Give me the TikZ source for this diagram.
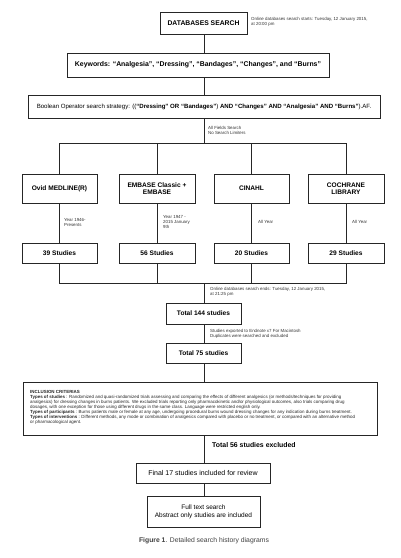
\documentclass[tikz,border=0pt]{standalone}
\usepackage{fontspec}
\setmainfont{Liberation Sans}
\usetikzlibrary{shadows}
\newcommand{\fs}[2]{\fontsize{#1}{#2}\selectfont}
\begin{document}
\begin{tikzpicture}[x=1pt,y=-1pt,
  box/.style={draw=black!85, line width=0.6pt, fill=white, inner sep=0pt, align=center,
     drop shadow={shadow xshift=0.7pt, shadow yshift=-0.7pt, fill=black!30, opacity=1}},
  bigb/.style={font=\fs{6.6}{7.6}\bfseries},
  lbl/.style={anchor=north west, inner sep=0pt, align=left, font=\fs{4.4}{4.9}, text=black!80},
  ln/.style={draw=black!85, line width=0.6pt}]
\useasboundingbox (0,0) rectangle (400,558);
\fill[white] (0,0) rectangle (400,558);

\node[box,font=\fs{6.8}{8}\bfseries,minimum width=87pt,minimum height=22pt] (db) at (203.5,23) {DATABASES SEARCH};
\node[lbl] (dbl) at (251,17.5) {Online databases search starts: Tuesday, 12 January 2015,\\at 20:00 pm};

\node[box,font=\fs{6.9}{8}\bfseries,minimum width=262pt,minimum height=24pt] (kw) at (198,65)
  {Keywords: ``Analgesia'', ``Dressing'', ``Bandages'', ``Changes'', and ``Burns''};

\node[box,font=\fs{6.1}{7},minimum width=352pt,minimum height=23pt] (bo) at (204,106.5)
  {Boolean Operator search strategy: ((\textbf{``Dressing'' OR ``Bandages''}) \textbf{AND ``Changes'' AND ``Analgesia'' AND ``Burns''}).AF.};

\coordinate (j1) at (204,143);
\node[lbl] (afl) at (208,126) {All Fields Search\\No Search Limiters};

\node[box,bigb,minimum width=75pt,minimum height=29pt] (ovid) at (59.5,188.5) {Ovid MEDLINE(R)};
\node[box,bigb,minimum width=76pt,minimum height=29pt] (emb) at (157,188.5) {EMBASE Classic +\\EMBASE};
\node[box,bigb,minimum width=75pt,minimum height=29pt] (cin) at (251.5,188.5) {CINAHL};
\node[box,bigb,minimum width=76pt,minimum height=29pt] (coc) at (346,188.5) {COCHRANE\\LIBRARY};

\node[box,bigb,minimum width=75pt,minimum height=20pt] (s1) at (59.5,253) {39 Studies};
\node[box,bigb,minimum width=76pt,minimum height=20pt] (s2) at (157,253) {56 Studies};
\node[box,bigb,minimum width=75pt,minimum height=20pt] (s3) at (251.5,253) {20 Studies};
\node[box,bigb,minimum width=76pt,minimum height=20pt] (s4) at (346,253) {29 Studies};

\node[lbl] (y1) at (64,218) {Year 1946-\\Presents};
\node[lbl] (y2) at (163,215) {Year 1947 -\\2015 January\\9th};
\node[lbl] (y3) at (258,220.5) {All Year};
\node[lbl] (y4) at (352,220.5) {All Year};

\coordinate (j2) at (204,283);
\node[lbl] (endl) at (210,287.5) {Online databases search ends: Tuesday, 12 January 2015,\\at 21:25 pm};

\node[box,bigb,minimum width=75pt,minimum height=21pt] (t144) at (203.5,313.5) {Total 144 studies};
\node[lbl] (exl) at (210,329.5) {Studies exported to Endnote x7 For Macintosh\\Duplicates were searched and excluded};
\node[box,bigb,minimum width=75pt,minimum height=20pt] (t75) at (203.5,353) {Total 75 studies};

\node[box,minimum width=354pt,minimum height=53pt] (incl) at (200,408.5) {};
\node[lbl,font=\fs{4.45}{5.1},text=black!85] (inct) at (30,390) {\textbf{INCLUSION CRITERIAS}\\
\textbf{Types of studies} : Randomized and quasi-randomized trials assessing and comparing the effects of different analgesics (or methods/techniques for providing\\
analgesics) for dressing changes in burns patients. We excluded trials reporting only pharmacokinetic and/or physiological outcomes, also trials comparing drug\\
dosages, with one exception for those using different drugs in the same class. Language were restricted english only.\\
\textbf{Types of participants} : Burns patients male or female at any age, undergoing procedural burns wound dressing changes for any indication during burns treatment.\\
\textbf{Types of interventions} : Different methods, any mode or combination of analgesics compared with placebo or no treatment, or compared with an alternative method\\
or pharmacological agent.};

\node[anchor=west,inner sep=0pt,font=\fs{6.9}{8}\bfseries] (exc) at (212,445.5) {Total 56 studies excluded};

\node[box,font=\fs{7}{8},minimum width=134pt,minimum height=20pt] (f17) at (203,473) {Final 17 studies included for review};
\node[box,font=\fs{6.5}{8.2},minimum width=113pt,minimum height=31pt] (full) at (203.5,511.5) {Full text search\\Abstract only studies are included};

\node[inner sep=0pt,font=\fs{6.8}{8},text=black!75] (cap) at (204,541) {\textbf{Figure 1}. Detailed search history diagrams};

% connectors
\draw[ln] (db.south -| j1) -- (kw.north -| j1);
\draw[ln] (kw.south -| j1) -- (bo.north -| j1);
\draw[ln] (bo.south -| j1) -- (j1);
\draw[ln] (ovid.north) -- (ovid.north |- j1) -- (coc.north |- j1) -- (coc.north);
\draw[ln] (emb.north) -- (emb.north |- j1);
\draw[ln] (cin.north) -- (cin.north |- j1);
\draw[ln] (ovid.south) -- (s1.north);
\draw[ln] (emb.south) -- (s2.north);
\draw[ln] (cin.south) -- (s3.north);
\draw[ln] (coc.south) -- (s4.north);
\draw[ln] (s1.south) -- (s1.south |- j2) -- (s4.south |- j2) -- (s4.south);
\draw[ln] (s2.south) -- (s2.south |- j2);
\draw[ln] (s3.south) -- (s3.south |- j2);
\draw[ln] (j2) -- (t144.north -| j2);
\draw[ln] (t144.south -| j2) -- (t75.north -| j2);
\draw[ln] (t75.south -| j2) -- (incl.north -| j2);
\draw[ln] (incl.south -| j2) -- (f17.north -| j2);
\draw[ln] (f17.south -| j2) -- (full.north -| j2);
\end{tikzpicture}
\end{document}
